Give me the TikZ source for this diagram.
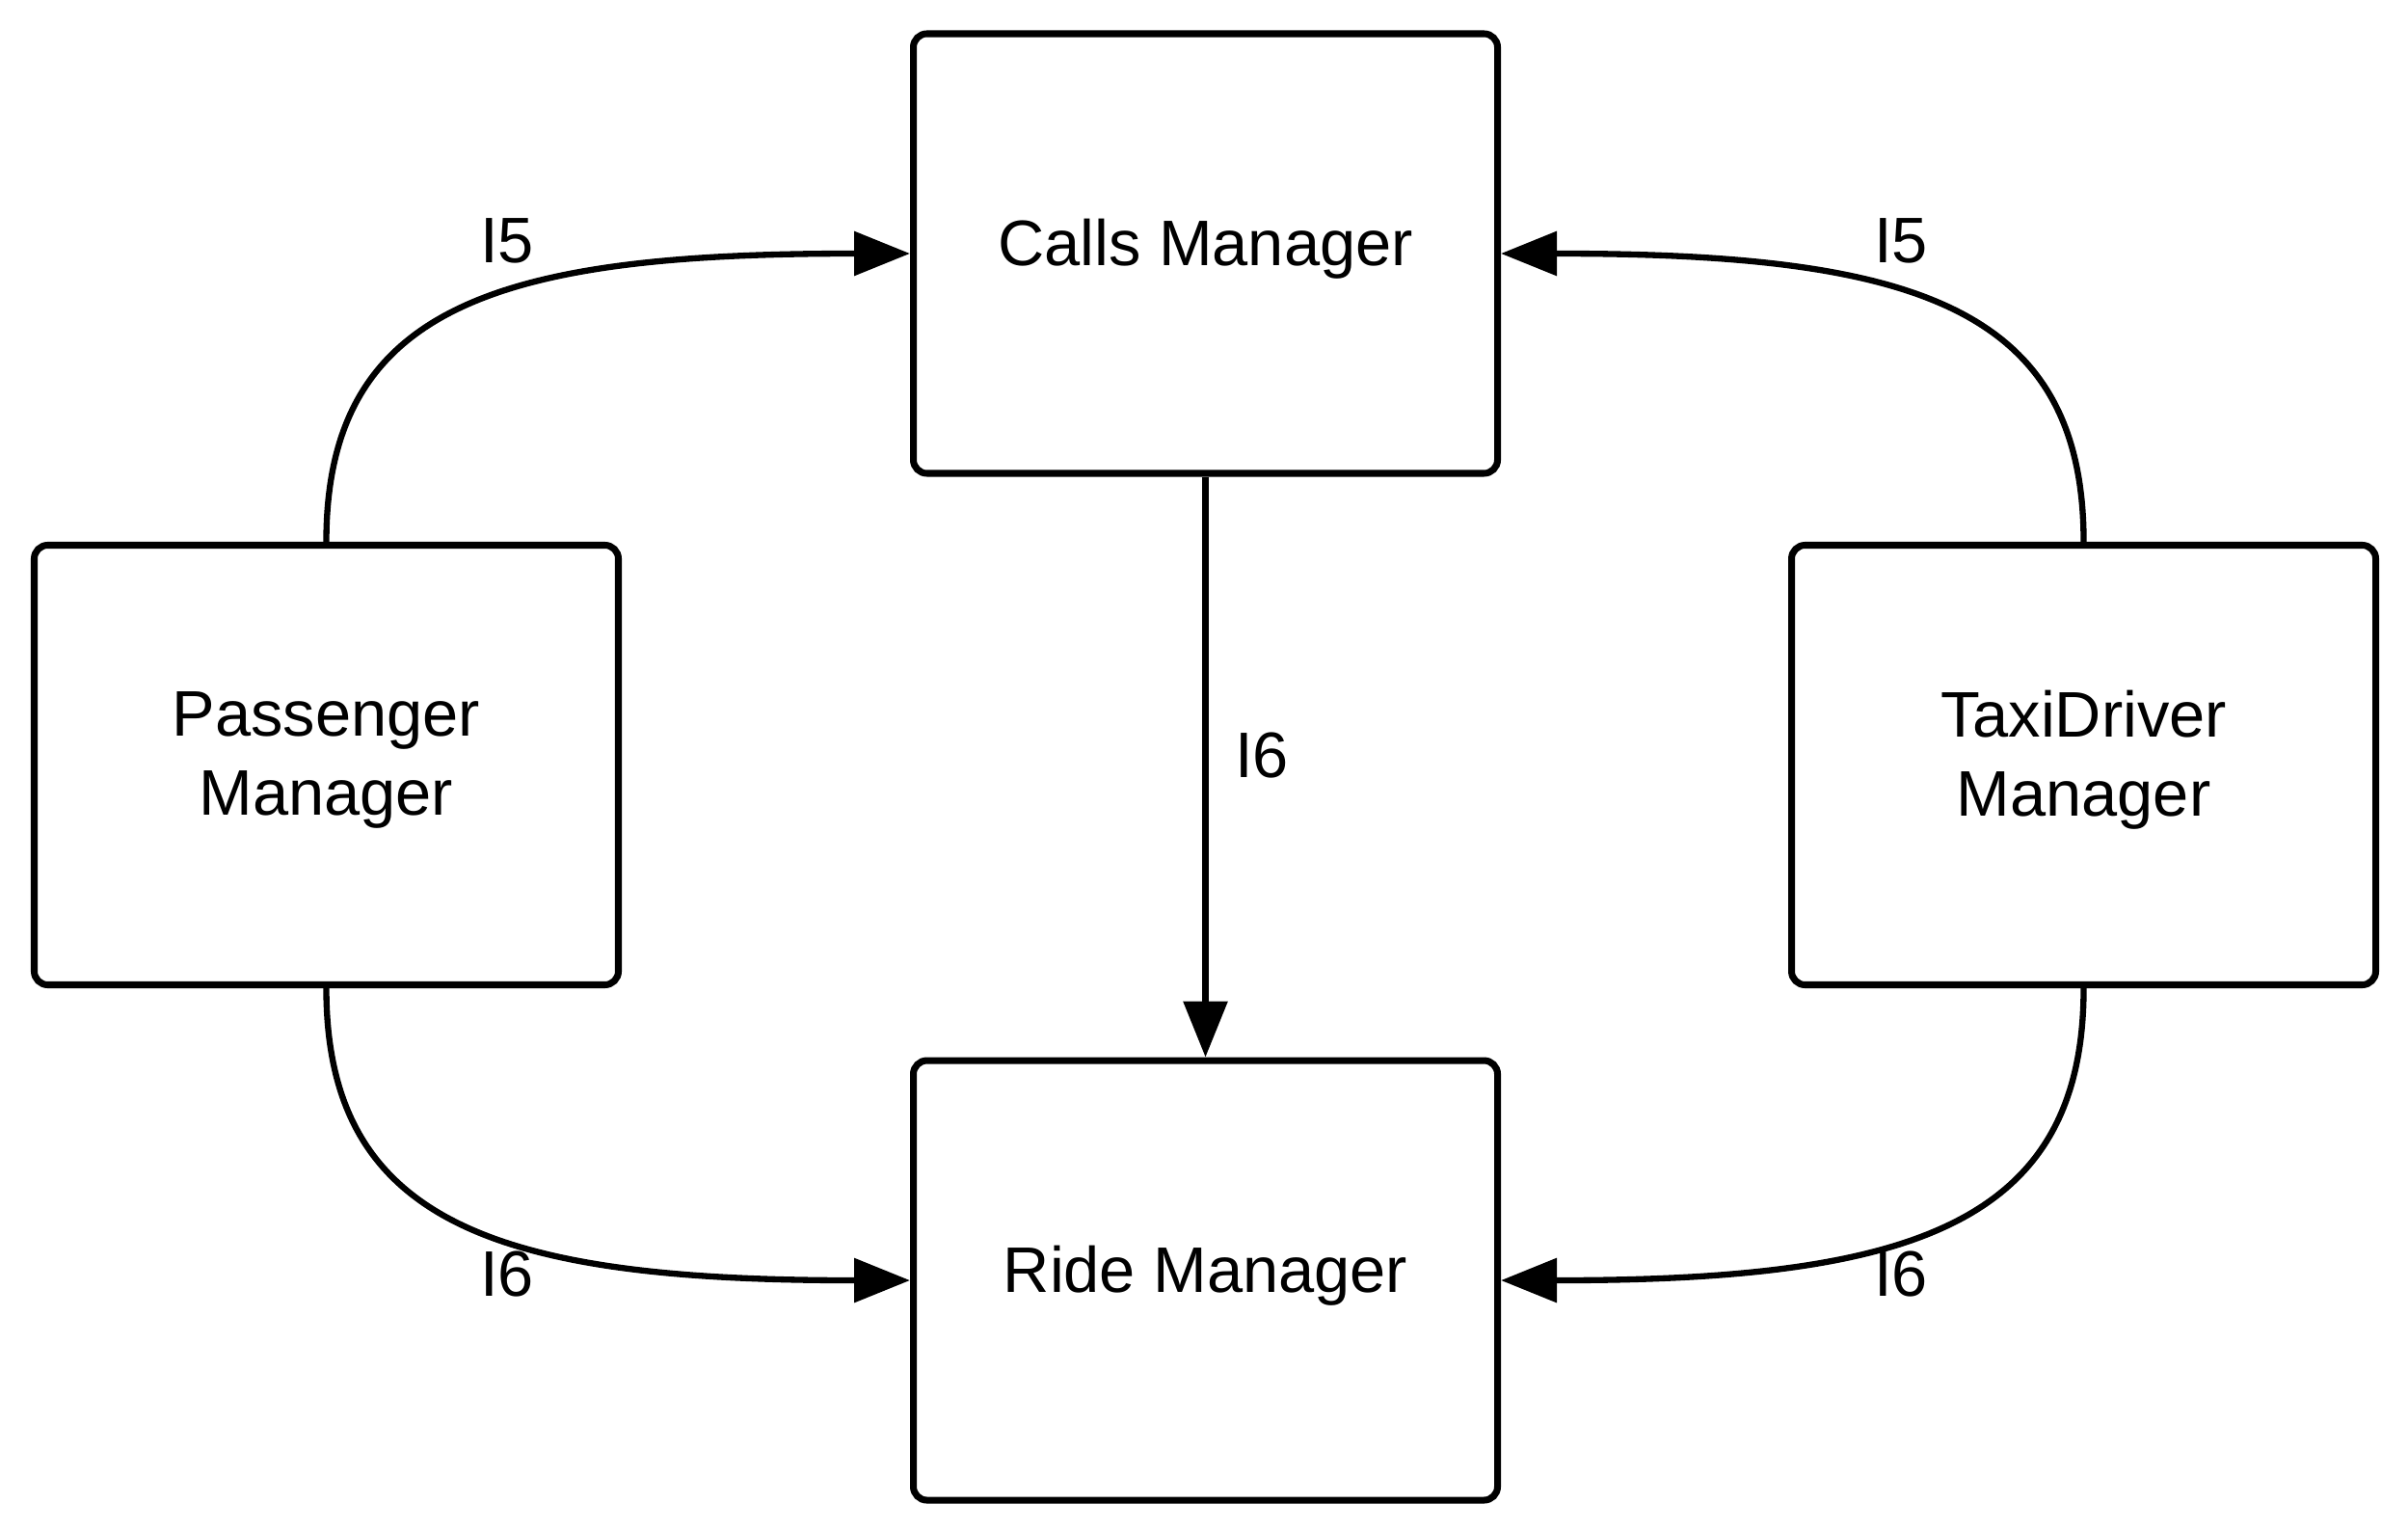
\documentclass[tikz,border=0pt]{standalone}
\usepackage{fontspec}
\setmainfont{Liberation Sans}
\usetikzlibrary{arrows.meta, positioning}

\begin{document}
\begin{tikzpicture}[
    every node/.style={font=\fontsize{19pt}{23.5pt}\selectfont},
    box/.style={draw,line width=2pt,rounded corners=4pt,minimum width=6.06cm,
                minimum height=4.56cm,text depth=0.24cm,align=center},
    lbl/.style={inner sep=0pt},
    arr/.style={-{Triangle[length=0.58cm,width=0.45cm]},line width=1.8pt}
]
\useasboundingbox (0,0) rectangle (24.98,15.87);
\node[box] (calls) at (12.505,13.24) {Calls Manager};
\node[box,below=6.02cm of calls] (ride) {Ride Manager};
\node[box] (pass) at (3.385,7.935) {Passenger\\Manager};
\node[box] (taxi) at (21.615,7.935) {TaxiDriver\\Manager};
\node[lbl] (l1) at (5.26,13.37)  {I5};
\node[lbl] (l2) at (19.72,13.37) {I5};
\node[lbl] (l3) at (13.09,8.03)  {I6};
\node[lbl] (l4) at (5.26,2.66)   {I6};
\node[lbl] (l5) at (19.72,2.66)  {I6};
\draw[arr] (pass.north) .. controls +(0,2.47) and +(-4.22,0) .. (calls.west);
\draw[arr] (taxi.north) .. controls +(0,2.47) and +(4.22,0) .. (calls.east);
\draw[arr] (pass.south) .. controls +(0,-2.47) and +(-4.22,0) .. (ride.west);
\draw[arr] (taxi.south) .. controls +(0,-2.47) and +(4.22,0) .. (ride.east);
\draw[arr] (calls.south) -- (ride.north);
\end{tikzpicture}
\end{document}
